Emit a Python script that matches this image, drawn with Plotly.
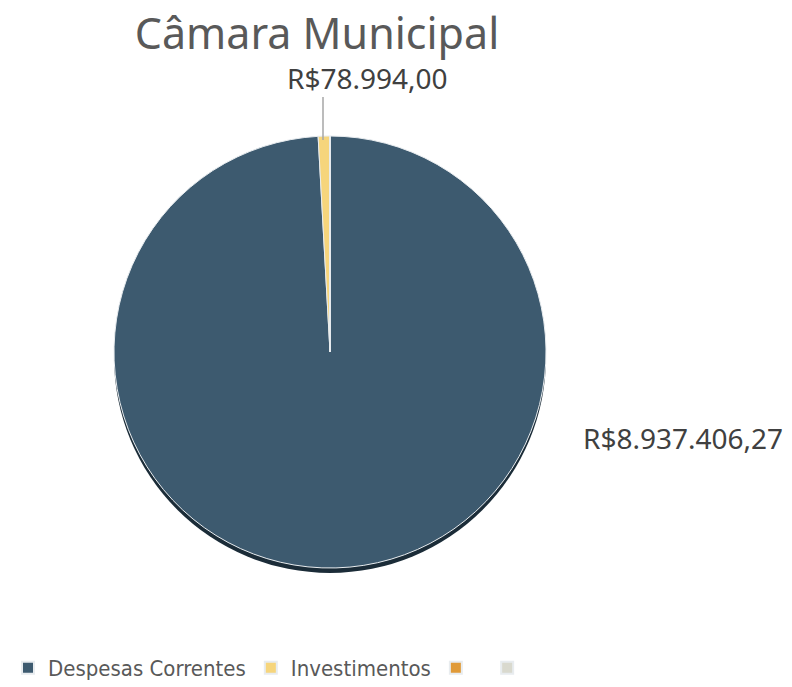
import plotly.graph_objects as go

title_text = "Câmara Municipal"
categories = ["Despesas Correntes", "Investimentos", " ", "  "]
values = [8937406.27, 78994.00, 0, 0]
colors = ["#3D5A6F", "#F6D57C", "#E09A38", "#D9D9CE"]

def brl(v):
    s = f"{v:,.2f}"
    s = s.replace(",", "X").replace(".", ",").replace("X", ".")
    return "R$" + s

W, H = 792, 687
OFF = 8  # default page body margin
cx, cy, r = 330, 352, 216

def px(x):
    return (x - OFF) / W

def py(y):
    return 1 - (y - OFF) / H

def dom(dy=0):
    return dict(x=[px(cx - r), px(cx + r)],
                y=[py(cy + r + dy), py(cy - r + dy)])

fig = go.Figure()
# shadow
fig.add_trace(go.Pie(labels=["shadow"], values=[sum(values)], domain=dom(5),
                     marker=dict(colors=["#1B2C38"]), textinfo="none",
                     hoverinfo="skip", showlegend=False, sort=False))
fig.add_trace(go.Pie(labels=categories, values=values, domain=dom(),
                     marker=dict(colors=colors, line=dict(color="#E8ECEF", width=1)),
                     textinfo="none", sort=False, direction="clockwise", rotation=0,
                     showlegend=True))

label_font = dict(family="Noto Sans", size=28, color="#404040")
fig.add_annotation(x=px(367), y=py(78), xref="paper", yref="paper", xanchor="center",
                   yanchor="middle", text=brl(values[1]), showarrow=False, font=label_font)
fig.add_shape(type="line", x0=px(323), x1=px(323), y0=py(97), y1=py(140),
              xref="paper", yref="paper", line=dict(color="#A6A6A6", width=1.5))
fig.add_annotation(x=px(683), y=py(438), xref="paper", yref="paper", xanchor="center",
                   yanchor="middle", text=brl(values[0]), showarrow=False, font=label_font)

fig.update_layout(
    width=W, height=H,
    paper_bgcolor="white", plot_bgcolor="white",
    margin=dict(l=0, r=0, t=0, b=0),
    title=dict(text=title_text, x=px(317), xanchor="center", y=py(34), yanchor="middle",
               font=dict(family="Noto Sans", size=43, color="#595959")),
    legend=dict(orientation="h", x=0, xanchor="left", y=py(668), yanchor="middle",
                font=dict(family="DejaVu Sans Condensed, Noto Sans", size=22, color="#595959"),
                itemwidth=30, itemsizing="constant"),
)
fig.write_html("out.html")
